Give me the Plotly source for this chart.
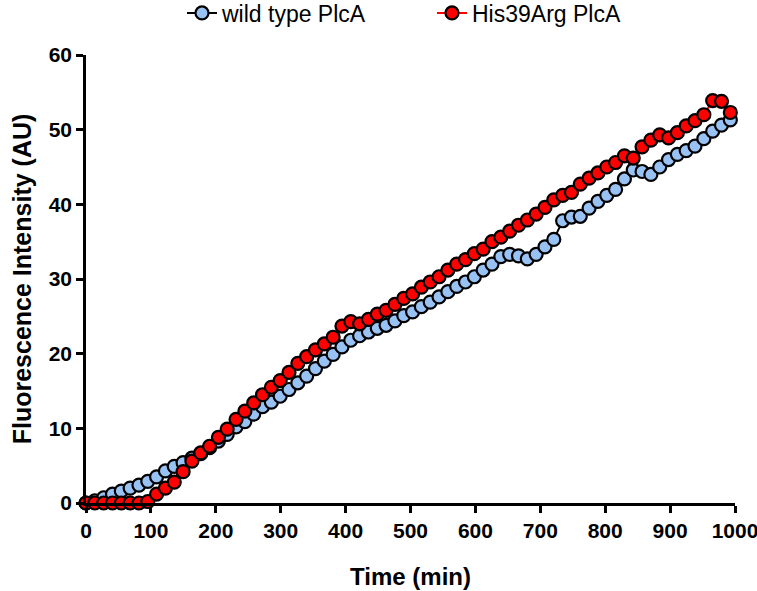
import plotly.graph_objects as go

time_min = [0, 13.6, 27.2, 40.8, 54.4, 68, 81.6, 95.2, 108.8, 122.4, 136, 149.6, 163.2, 176.8,
            190.4, 204, 217.6, 231.2, 244.8, 258.4, 272, 285.6, 299.2, 312.8, 326.4, 340, 353.6,
            367.2, 380.8, 394.4, 408, 421.6, 435.2, 448.8, 462.4, 476, 489.6, 503.2, 516.8, 530.4,
            544, 557.6, 571.2, 584.8, 598.4, 612, 625.6, 639.2, 652.8, 666.4, 680, 693.6, 707.2,
            720.8, 734.4, 748, 761.6, 775.2, 788.8, 802.4, 816, 829.6, 843.2, 856.8, 870.4, 884,
            897.6, 911.2, 924.8, 938.4, 952, 965.6, 979.2, 992.8]

wild_type = [0, 0.3, 0.7, 1.2, 1.6, 2.0, 2.4, 2.9, 3.5, 4.3, 4.9, 5.4, 6.0, 6.6,
             7.4, 8.3, 9.2, 10.2, 10.9, 11.9, 12.9, 13.5, 14.3, 15.2, 16.1, 17.0, 18.0,
             19.0, 19.9, 20.9, 21.8, 22.4, 22.9, 23.4, 23.8, 24.4, 25.1, 25.6, 26.3, 26.9,
             27.6, 28.3, 29.0, 29.6, 30.3, 31.2, 32.0, 33.0, 33.3, 33.1, 32.7, 33.3, 34.3,
             35.3, 37.8, 38.3, 38.4, 39.5, 40.4, 41.2, 42.0, 43.4, 44.6, 44.4, 44.0, 45.0,
             46.0, 46.7, 47.2, 47.8, 48.8, 49.8, 50.6, 51.3]

his39arg = [0, 0, 0, 0, 0, 0, 0, 0.2, 1.2, 2.0, 2.8, 4.2, 5.6, 6.7,
            7.6, 8.8, 9.9, 11.2, 12.3, 13.4, 14.5, 15.5, 16.4, 17.5, 18.7, 19.6, 20.5,
            21.3, 22.2, 23.7, 24.3, 24.0, 24.6, 25.3, 25.8, 26.6, 27.4, 28.0, 28.9, 29.6,
            30.3, 31.2, 32.0, 32.6, 33.4, 34.0, 35.0, 35.6, 36.4, 37.2, 37.9, 38.7, 39.6,
            40.6, 41.2, 41.6, 42.7, 43.5, 44.2, 45.0, 45.6, 46.5, 46.2, 47.7, 48.6, 49.3,
            48.9, 49.6, 50.5, 51.2, 52.0, 53.9, 53.8, 52.3]

x_ticks = [0, 100, 200, 300, 400, 500, 600, 700, 800, 900, 1000]
y_ticks = [0, 10, 20, 30, 40, 50, 60]

fig = go.Figure()
fig.add_trace(go.Scatter(
    x=time_min, y=wild_type, mode="lines+markers", name="wild type PlcA",
    line=dict(color="black", width=2),
    marker=dict(size=13, color="#99c2f4", line=dict(color="black", width=2.2)),
    cliponaxis=False))
fig.add_trace(go.Scatter(
    x=time_min, y=his39arg, mode="lines+markers", name="His39Arg PlcA",
    line=dict(color="red", width=2),
    marker=dict(size=13, color="#ff0000", line=dict(color="black", width=2.2)),
    cliponaxis=False))

fig.update_layout(
    width=757, height=591,
    margin=dict(l=86, r=22, t=55, b=88, autoexpand=False),
    paper_bgcolor="white", plot_bgcolor="white",
    font=dict(family="Liberation Sans, Arial, sans-serif", color="black"),
    legend=dict(orientation="h", x=182 / 757, xref="container", xanchor="left",
                y=1 - 13 / 591, yref="container", yanchor="middle",
                entrywidth=205, itemsizing="trace",
                font=dict(size=23, family="Liberation Sans, Arial, sans-serif"),
                bgcolor="rgba(0,0,0,0)"),
    xaxis=dict(range=[0, 1000], tickvals=x_ticks, ticktext=[str(v) for v in x_ticks],
               showline=True, linecolor="black", linewidth=2.5, ticks="outside",
               ticklen=7, tickwidth=2.5, tickcolor="black", showgrid=False, zeroline=False,
               automargin=False, ticklabeloverflow="allow",
               tickfont=dict(size=21, family="Liberation Sans Narrow, Liberation Sans, Arial", weight="bold"),
               title=dict(text="<b>Time (min)</b>",
                          font=dict(size=24, family="Liberation Sans Narrow, Liberation Sans, Arial"),
                          standoff=28)),
    yaxis=dict(range=[0, 60], tickvals=y_ticks, ticktext=[str(v) for v in y_ticks],
               showline=True, linecolor="black", linewidth=2.5, ticks="outside",
               ticklen=7, tickwidth=2.5, tickcolor="black", showgrid=False, zeroline=False,
               automargin=False, ticklabeloverflow="allow",
               tickfont=dict(size=21, weight="bold"),
               title=dict(text="<b>Fluorescence Intensity (AU)</b>", font=dict(size=25),
                          standoff=10)),
)

fig.write_html("out.html", config={"displayModeBar": False},
               post_script="document.body.style.margin='0';")
